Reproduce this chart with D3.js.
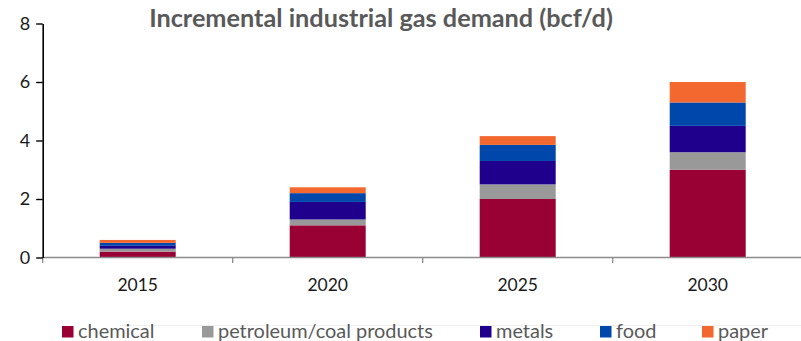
<!DOCTYPE html>
<html><head><meta charset="utf-8">
<script src="https://cdn.jsdelivr.net/npm/d3@7"></script>
<style>body{margin:0;background:#fff}svg{display:block}</style>
</head><body>
<svg id="c" width="801" height="341"></svg>
<script>
const categories = ["2015", "2020", "2025", "2030"];
const seriesNames = ["chemical", "petroleum/coal products", "metals", "food", "paper"];
const chemical = [0.2, 1.1, 2.0, 3.0];
const petroleum = [0.1, 0.2, 0.5, 0.6];
const metals = [0.1, 0.6, 0.8, 0.9];
const food = [0.1, 0.3, 0.55, 0.8];
const paper = [0.1, 0.2, 0.3, 0.7];
const yTicks = [0, 2, 4, 6, 8];
const colors = ["#990033", "#999999", "#1f008c", "#0047ab", "#f2682f"];
const title = "Incremental industrial gas demand (bcf/d)";

const seriesVals = [chemical, petroleum, metals, food, paper];
const rows = categories.map((c, i) => {
  const r = {cat: c};
  seriesNames.forEach((s, j) => r[s] = seriesVals[j][i]);
  return r;
});
const stacked = d3.stack().keys(seriesNames)(rows);

const svg = d3.select("#c");
const font = "Lato, 'Open Sans', sans-serif";
const x = d3.scaleBand().domain(categories).range([42.7, 802.7]).paddingInner(0.6).paddingOuter(0.3);
const y = d3.scaleLinear().domain([0, 8]).range([257.5, 23.5]);

// title
const t = svg.append("text").attr("x", 381).attr("y", 27).attr("text-anchor", "middle")
  .attr("font-family", font).attr("font-weight", "bold").attr("font-size", 19)
  .attr("fill", "#595959").text(title);
const w = t.node().getComputedTextLength();
t.attr("font-size", 19 * 464 / w);

// bars
svg.append("g").selectAll("g").data(stacked).join("g")
  .attr("fill", (d, i) => colors[i])
  .selectAll("rect").data(d => d).join("rect")
  .attr("x", d => x(d.data.cat))
  .attr("width", x.bandwidth())
  .attr("y", d => y(d[1]))
  .attr("height", d => y(d[0]) - y(d[1]));

// x axis
const xAxis = svg.append("g").attr("transform", "translate(0,257.5)");
xAxis.append("line").attr("x1", 42.7).attr("x2", 801).attr("stroke", "#8c8c8c").attr("stroke-width", 1.6);
const step = x.step();
const bounds = d3.range(categories.length + 1).map(i => 42.7 + i * step);
xAxis.selectAll("line.tk").data(bounds).join("line").attr("class", "tk")
  .attr("x1", d => d).attr("x2", d => d).attr("y1", 0).attr("y2", 5.5)
  .attr("stroke", "#8c8c8c").attr("stroke-width", 1.3);
xAxis.selectAll("text").data(categories).join("text")
  .attr("x", d => x(d) + x.bandwidth() / 2).attr("y", 33.5)
  .attr("text-anchor", "middle").attr("font-family", font).attr("font-size", 17.5)
  .attr("fill", "#1a1a1a").text(d => d);

// y axis
const yAxis = svg.append("g").attr("transform", "translate(42.7,0)")
  .call(d3.axisLeft(y).tickValues(yTicks).tickSize(6.5).tickPadding(6).tickSizeOuter(0));
yAxis.select(".domain").attr("stroke", "#000").attr("stroke-width", 1.6);
yAxis.selectAll(".tick line").attr("stroke", "#000").attr("stroke-width", 1.4);
yAxis.selectAll(".tick text").attr("font-family", font).attr("font-size", 18).attr("fill", "#1a1a1a");

// legend
svg.append("line").attr("x1", 120).attr("x2", 801).attr("y1", 325.5).attr("y2", 325.5)
  .attr("stroke", "#efefef").attr("stroke-width", 1);
const legSq = [62, 202, 480, 600, 702];
const lg = svg.append("g").selectAll("g").data(seriesNames).join("g")
  .attr("transform", (d, i) => `translate(${legSq[i]},326)`);
lg.append("rect").attr("width", 11.5).attr("height", 11.5).attr("fill", (d, i) => colors[i]);
const lt = lg.append("text").attr("x", 16).attr("y", 12.3).attr("font-family", font).attr("font-size", 17.5)
  .attr("fill", "#595959").text(d => d);
const pw = lt.filter((d, i) => i === 1).node().getComputedTextLength();
lt.attr("font-size", Math.min(21, 17.5 * 215 / pw));
</script>
</body></html>
